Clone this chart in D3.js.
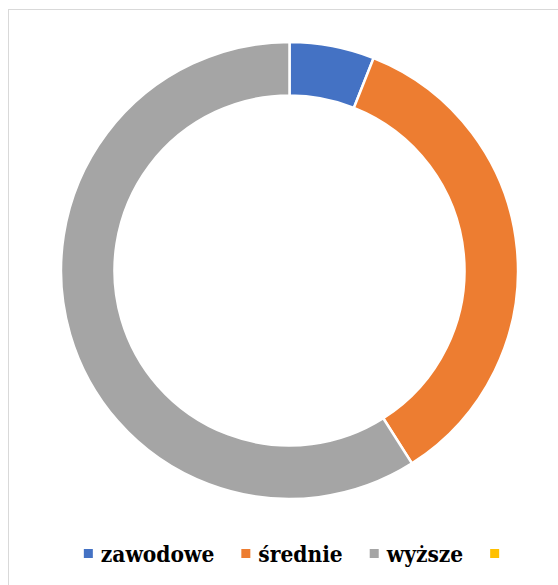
<!doctype html>
<html lang="pl">
<head>
<meta charset="UTF-8">
<title>Wykształcenie</title>
<script src="https://d3js.org/d3.v7.min.js"></script>
<style>
body { margin: 0; background-color: #ffffff; }
svg { display: block; }
</style>
</head>
<body>
<div id="plot"></div>
<script>

var categories = ["zawodowe", "średnie", "wyższe", ""];
var values = [6, 35, 59, 0];
var colors = ["#4472C4", "#ED7D31", "#A5A5A5", "#FFC000"];

var width = 558;
var height = 585;
var cx = 289.5;
var cy = 270.5;
var outerR = 228.5;
var innerR = 175;

var svg = d3.select("#plot").append("svg")
.attr("width", width)
.attr("height", height);

// chart area border (runs off the right and bottom)
svg.append("rect")
.attr("x", 8.5)
.attr("y", 9.5)
.attr("width", width + 10)
.attr("height", height + 10)
.style("fill", "none")
.style("stroke", "#d9d9d9")
.style("stroke-width", 1);

var data = categories.map(function (c, i) {
	return { name: c, value: values[i], color: colors[i] };
});

var pie = d3.pie().sort(null).value(function (d) { return d.value; });
var arc = d3.arc().innerRadius(innerR).outerRadius(outerR);

svg.append("g")
.attr("transform", "translate(" + cx + "," + cy + ")")
.selectAll("path")
.data(pie(data).filter(function (d) { return d.data.value > 0; }))
.enter().append("path")
.attr("d", arc)
.style("fill", function (d) { return d.data.color; })
.style("stroke", "#ffffff")
.style("stroke-width", 2.5)
.style("stroke-linejoin", "miter");

// legend
var legend = svg.append("g");
var x = 0;
var baseline = 562;
data.forEach(function (d) {
	legend.append("rect")
	.attr("x", x)
	.attr("y", baseline - 13)
	.attr("width", 9)
	.attr("height", 9)
	.style("fill", d.color);
	var t = legend.append("text")
	.attr("x", x + 17)
	.attr("y", baseline)
	.style("font-family", "'DejaVu Serif Condensed', 'DejaVu Serif'")
	.style("font-stretch", "condensed")
	.style("font-weight", "bold")
	.style("font-size", "22.5px")
	.style("fill", "#000000")
	.text(d.name);
	x += 17 + t.node().getComputedTextLength() + 27;
});
var bb = legend.node().getBBox();
legend.attr("transform", "translate(" + (291.5 - bb.width / 2) + ",0)");

</script>
</body>
</html>
